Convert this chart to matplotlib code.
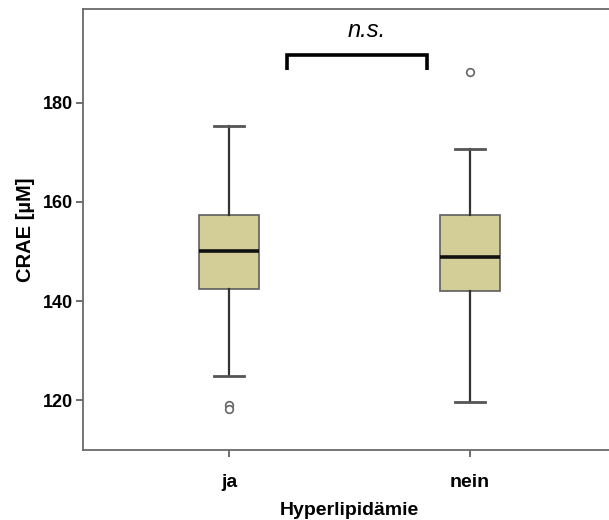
import matplotlib
matplotlib.use("Agg")
import matplotlib.pyplot as plt

# CRAE per group (values in µM)
groups = ["ja", "nein"]
medians = [150.1, 149.0]
q1s = [142.5, 142.0]
q3s = [157.3, 157.3]
whisker_lo = [124.9, 119.7]
whisker_hi = [175.4, 170.7]
outliers = [[119.1, 118.3], [186.3]]

bracket_y = 189.7
bracket_drop = 3.1

plt.rcParams["font.family"] = ["Liberation Sans", "DejaVu Sans"]

fig = plt.figure(figsize=(6.09, 5.20), dpi=100)
ax = fig.add_axes([83 / 609, 70 / 520, 533 / 609, 441.5 / 520])

stats = []
for i, g in enumerate(groups):
    stats.append(dict(label=g, med=medians[i], q1=q1s[i], q3=q3s[i],
                      whislo=whisker_lo[i], whishi=whisker_hi[i],
                      fliers=outliers[i]))

ax.bxp(stats, positions=[1, 2], widths=0.25, patch_artist=True,
       boxprops=dict(facecolor="#D3CE97", edgecolor="#5e5e5e", linewidth=1.2),
       medianprops=dict(color="#111111", linewidth=2.6),
       whiskerprops=dict(color="#333333", linewidth=1.6),
       capprops=dict(color="#555555", linewidth=2.0),
       capwidths=0.125,
       flierprops=dict(marker="o", markersize=5.5, markerfacecolor="white",
                       markeredgecolor="#666666", markeredgewidth=1.2))

ax.set_xlim(0.394, 2.606)
ax.set_ylim(110, 199)
ax.set_yticks([120, 140, 160, 180])

for side in ["left", "bottom", "top"]:
    ax.spines[side].set_color("#6a6a6a")
    ax.spines[side].set_linewidth(1.3)
ax.spines["right"].set_visible(False)

ax.tick_params(axis="both", colors="#555555", length=5, width=1.2,
               labelcolor="black", labelsize=13)
ax.tick_params(axis="y", pad=2)
ax.tick_params(axis="x", pad=12, labelsize=14)
for lbl in ax.get_xticklabels() + ax.get_yticklabels():
    lbl.set_fontweight("bold")

ax.set_xlabel("Hyperlipidämie", fontsize=14, fontweight="bold", labelpad=8)
ax.set_ylabel("CRAE [µM]", fontsize=14.5, fontweight="bold", labelpad=6)

# significance bracket between the two groups
bx = [1.24, 1.24, 1.82, 1.82]
by = [bracket_y - bracket_drop, bracket_y, bracket_y, bracket_y - bracket_drop]
ax.plot(bx, by, color="black", linewidth=2.6, solid_capstyle="butt",
        solid_joinstyle="miter", clip_on=False)
ax.text(1.57, bracket_y + 2.6, "n.s.", ha="center", va="bottom",
        fontsize=17, fontstyle="italic")

fig.savefig("out.png", dpi=100)
